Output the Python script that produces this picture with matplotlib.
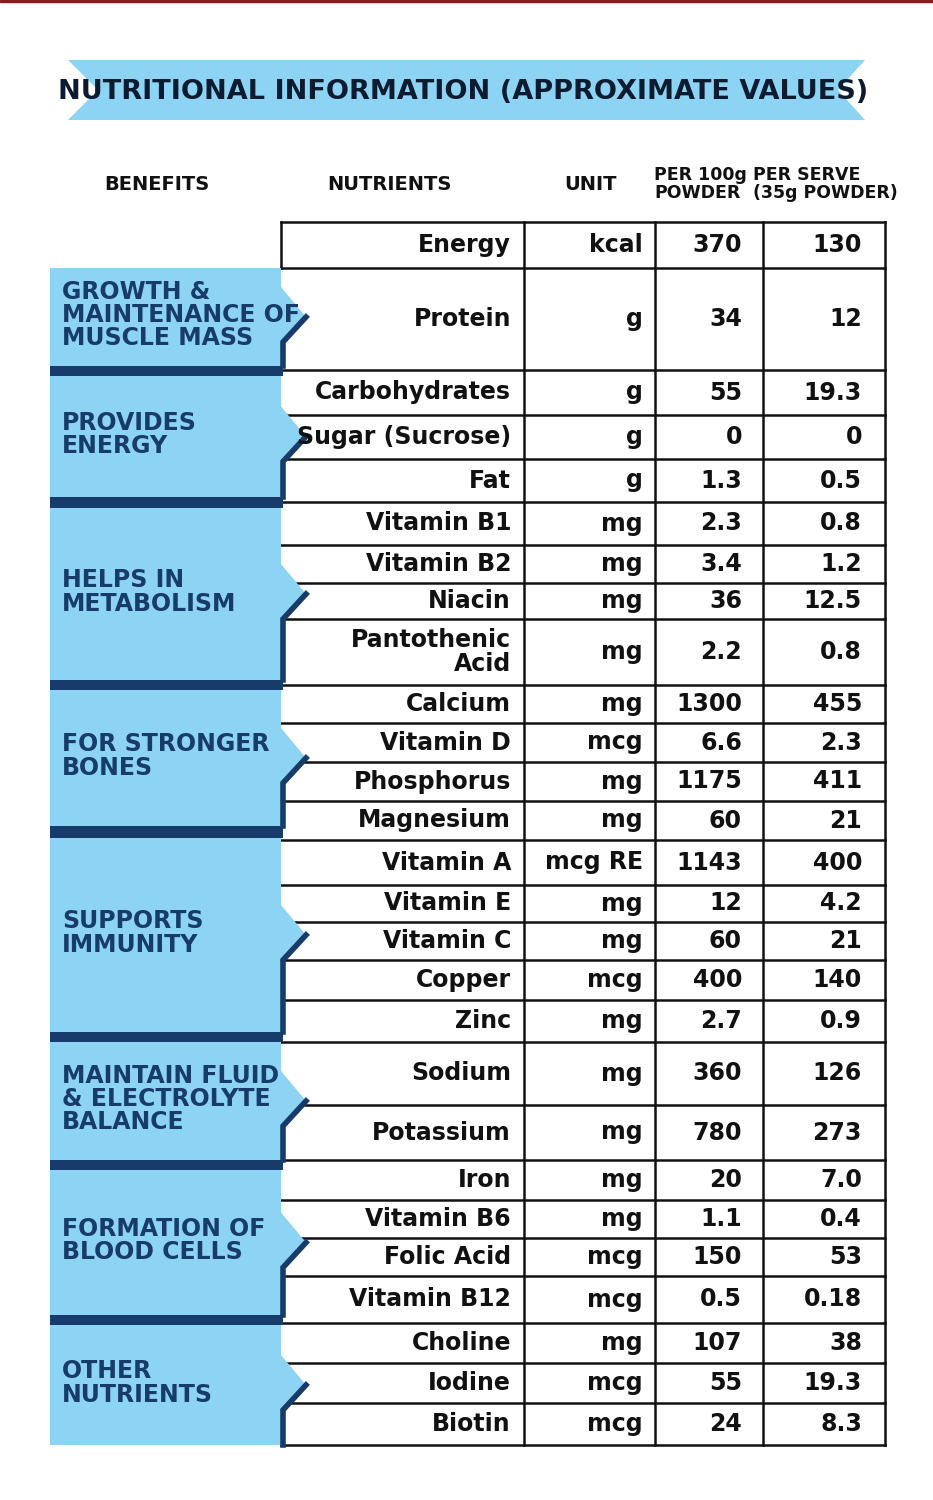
import matplotlib
matplotlib.use("Agg")
import matplotlib.pyplot as plt
from matplotlib.patches import Polygon, Rectangle

# ---- data ---------------------------------------------------------------
nutrients = ["Energy", "Protein", "Carbohydrates", "Sugar (Sucrose)", "Fat",
             "Vitamin B1", "Vitamin B2", "Niacin", "Pantothenic\nAcid",
             "Calcium", "Vitamin D", "Phosphorus", "Magnesium",
             "Vitamin A", "Vitamin E", "Vitamin C", "Copper", "Zinc",
             "Sodium", "Potassium",
             "Iron", "Vitamin B6", "Folic Acid", "Vitamin B12",
             "Choline", "Iodine", "Biotin"]
units = ["kcal", "g", "g", "g", "g", "mg", "mg", "mg", "mg",
         "mg", "mcg", "mg", "mg", "mcg RE", "mg", "mg", "mcg", "mg",
         "mg", "mg", "mg", "mg", "mcg", "mcg", "mg", "mcg", "mcg"]
per_100g = ["370", "34", "55", "0", "1.3", "2.3", "3.4", "36", "2.2",
            "1300", "6.6", "1175", "60", "1143", "12", "60", "400", "2.7",
            "360", "780", "20", "1.1", "150", "0.5", "107", "55", "24"]
per_serve = ["130", "12", "19.3", "0", "0.5", "0.8", "1.2", "12.5", "0.8",
             "455", "2.3", "411", "21", "400", "4.2", "21", "140", "0.9",
             "126", "273", "7.0", "0.4", "53", "0.18", "38", "19.3", "8.3"]
benefits = ["GROWTH &\nMAINTENANCE OF\nMUSCLE MASS", "PROVIDES\nENERGY",
            "HELPS IN\nMETABOLISM", "FOR STRONGER\nBONES", "SUPPORTS\nIMMUNITY",
            "MAINTAIN FLUID\n& ELECTROLYTE\nBALANCE", "FORMATION OF\nBLOOD CELLS",
            "OTHER\nNUTRIENTS"]
headers = ["BENEFITS", "NUTRIENTS", "UNIT", "PER 100g\nPOWDER", "PER SERVE\n(35g POWDER)"]
title = "NUTRITIONAL INFORMATION (APPROXIMATE VALUES)"

# ---- layout (pixels) ----------------------------------------------------
row_edges = [222, 268, 370, 415, 459, 502, 545, 583, 619, 685, 723, 762, 801,
             840, 885, 922, 960, 1000, 1042, 1105, 1160, 1200, 1238, 1276,
             1323, 1363, 1403, 1445]
panels = [(268, 366), (376, 497), (508, 680), (690, 826), (838, 1032),
          (1042, 1160), (1170, 1315), (1325, 1445)]
cols = [281, 524, 655, 763, 885]
LIGHT = "#8dd4f4"
NAVY = "#173b6a"
FONT = ["Liberation Sans Narrow", "DejaVu Sans"]

fig = plt.figure(figsize=(9.33, 15), dpi=100)
ax = fig.add_axes([0, 0, 1, 1])
ax.set_xlim(0, 933)
ax.set_ylim(1500, 0)
ax.axis("off")

ax.add_patch(Rectangle((0, 0), 933, 2, color="#8b1a1a"))

# title ribbon
ax.add_patch(Polygon([(68, 60), (865, 60), (838, 90), (865, 120), (68, 120), (98, 90)],
                     closed=True, color=LIGHT, lw=0))
ax.text(463, 92, title, ha="center", va="center", fontsize=19.5, fontweight="bold",
        family=FONT, color="#0d1b30")

# headers
hx = [157, 389, 591, 654, 753]
for i, h in enumerate(headers):
    ha = "left" if i >= 3 else "center"
    ax.text(hx[i], 184, h, ha=ha, va="center", fontsize=12.5 if i >= 3 else 14,
            fontweight="bold", family=FONT, color="#111", linespacing=1.0)

# table grid
lw = 1.8
for y in row_edges:
    ax.plot([cols[0], cols[-1]], [y, y], color="#111", lw=lw, zorder=1)
for x in cols[1:]:
    ax.plot([x, x], [row_edges[0], row_edges[-1]], color="#111", lw=lw, zorder=1)
ax.plot([cols[0], cols[0]], [row_edges[0], row_edges[1]], color="#111", lw=lw)

# benefit panels with chevrons
for (top, bot), label in zip(panels, benefits):
    mid = (top + bot) / 2
    ax.add_patch(Polygon([(50, top), (281, top), (281, mid - 30), (306, mid),
                          (281, mid + 25), (281, bot), (50, bot)],
                         closed=True, color=LIGHT, lw=0, zorder=3))
    ax.plot([306, 283, 283], [mid, mid + 25, bot], color=NAVY, lw=4,
            solid_joinstyle="miter", zorder=4)
    ax.text(62, mid - 2, label, ha="left", va="center", fontsize=17,
            fontweight="bold", family=FONT, color=NAVY, linespacing=0.95, zorder=5)
# navy separators
for (t1, b1), (t2, b2) in zip(panels[:-1], panels[1:]):
    ax.add_patch(Rectangle((50, b1), 233, t2 - b1, color=NAVY, lw=0, zorder=4))

# cell values
for i in range(len(nutrients)):
    y = (row_edges[i] + row_edges[i + 1]) / 2
    kw = dict(va="center", fontsize=17, fontweight="bold", family=FONT,
              color="#111", zorder=5)
    ax.text(511, y, nutrients[i], ha="right", linespacing=1.05, **kw)
    ax.text(643, y, units[i], ha="right", **kw)
    ax.text(742, y, per_100g[i], ha="right", **kw)
    ax.text(862, y, per_serve[i], ha="right", **kw)

fig.savefig("out.png", dpi=100)
